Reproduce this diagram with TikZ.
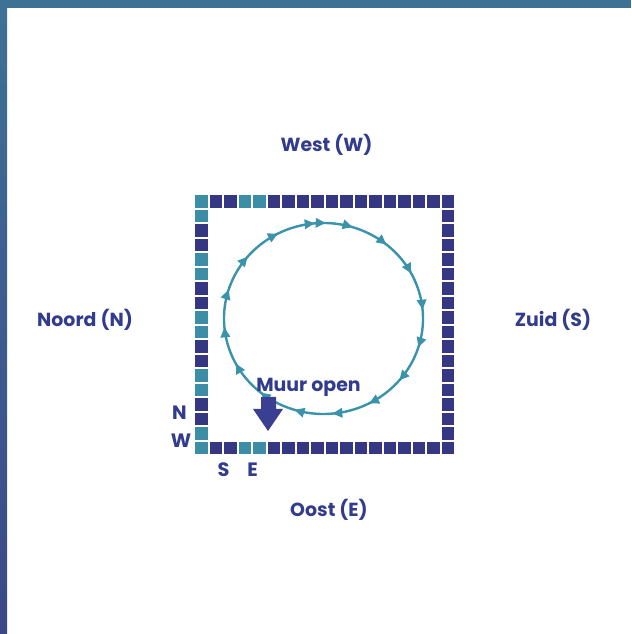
\documentclass[tikz,border=0pt]{standalone}
\usepackage{fontspec}
\setmainfont{Poppins}
\usetikzlibrary{arrows.meta,decorations.markings}
\definecolor{barteal}{HTML}{3D7295}
\definecolor{barblue}{HTML}{3B4886}
\definecolor{tileteal}{HTML}{3B8EA5}
\definecolor{tiledark}{HTML}{363783}
\definecolor{ringteal}{HTML}{3A93AB}
\definecolor{txtblue}{HTML}{323C8C}
\definecolor{arrowblue}{HTML}{3B3F91}
\tikzset{
  lbl/.style={font=\fontsize{14.2}{17}\selectfont\bfseries, text=txtblue, inner sep=0pt, anchor=base},
  small/.style={font=\fontsize{14.5}{17}\selectfont\bfseries, text=txtblue, inner sep=0pt, anchor=base},
  tile/.style={minimum size=9.375pt, inner sep=0pt, draw=none, anchor=north west},
  tT/.style={tile, fill=tileteal},
  tD/.style={tile, fill=tiledark},
  ring/.style={draw=ringteal, line width=1.8pt},
  ringtip/.tip={Triangle[length=7.5pt,width=7pt]},
}
\begin{document}
\begin{tikzpicture}[x=0.75pt,y=0.75pt]
\useasboundingbox (0,0) rectangle (631,634);
\fill[white] (0,0) rectangle (631,634);
% frame bars
\shade[top color=barteal, bottom color=barblue] (0,0) rectangle (7,634);
\fill[barteal] (0,626) rectangle (631,634);
% tiles
\foreach \i in {0,...,17}{
  \pgfmathtruncatemacro{\isT}{(\i==0)||(\i==3)||(\i==4)}
  \ifnum\isT=1 \def\st{tT}\else\def\st{tD}\fi
  \node[\st] (top-\i) at ({195+14.5*\i},{634-195}) {};
  \node[\st] (bot-\i) at ({195+14.5*\i},{634-195-14.5*17}) {};
  \pgfmathtruncatemacro{\m}{mod(\i,4)}
  \ifnum\m<2 \def\sl{tT}\else\def\sl{tD}\fi
  \node[\sl] (left-\i) at (195,{634-195-14.5*\i}) {};
  \node[tD] (right-\i) at ({195+14.5*17},{634-195-14.5*\i}) {};
}
% circle with arrows (clockwise)
\coordinate (ringstart) at (306.22,409.55);
\draw[ring,
  postaction={decorate, decoration={markings,
   mark=between positions 0.01389 and 0.99 step 0.0625 with {\arrow{ringtip}}}},
  postaction={decorate, decoration={markings,
   mark=at position 0.03194 with {\arrow{ringtip}}}}]
  (ringstart) arc[start angle=100, end angle=-260, x radius=74.625pt, y radius=71.625pt];
% labels
\node[lbl] (west) at (326.5,482) {West (W)};
\node[lbl] (noord) at (85,307) {Noord (N)};
\node[lbl] (zuid) at (553,307) {Zuid (S)};
\node[lbl] (oost) at (329,117) {Oost (E)};
% big arrow
\fill[arrowblue] (261,237) -- (276,237) -- (276,225) -- (283,225) -- (268,203) -- (253,225) -- (261,225) -- cycle;
\node[lbl] (muur) at (308.5,242) {Muur open};
\node[small] (nN) at (179.5,214) {N};
\node[small] (nW) at (181,186) {W};
\node[small] (nS) at (223.5,157) {S};
\node[small] (nE) at (252.5,157) {E};
\end{tikzpicture}
\end{document}
